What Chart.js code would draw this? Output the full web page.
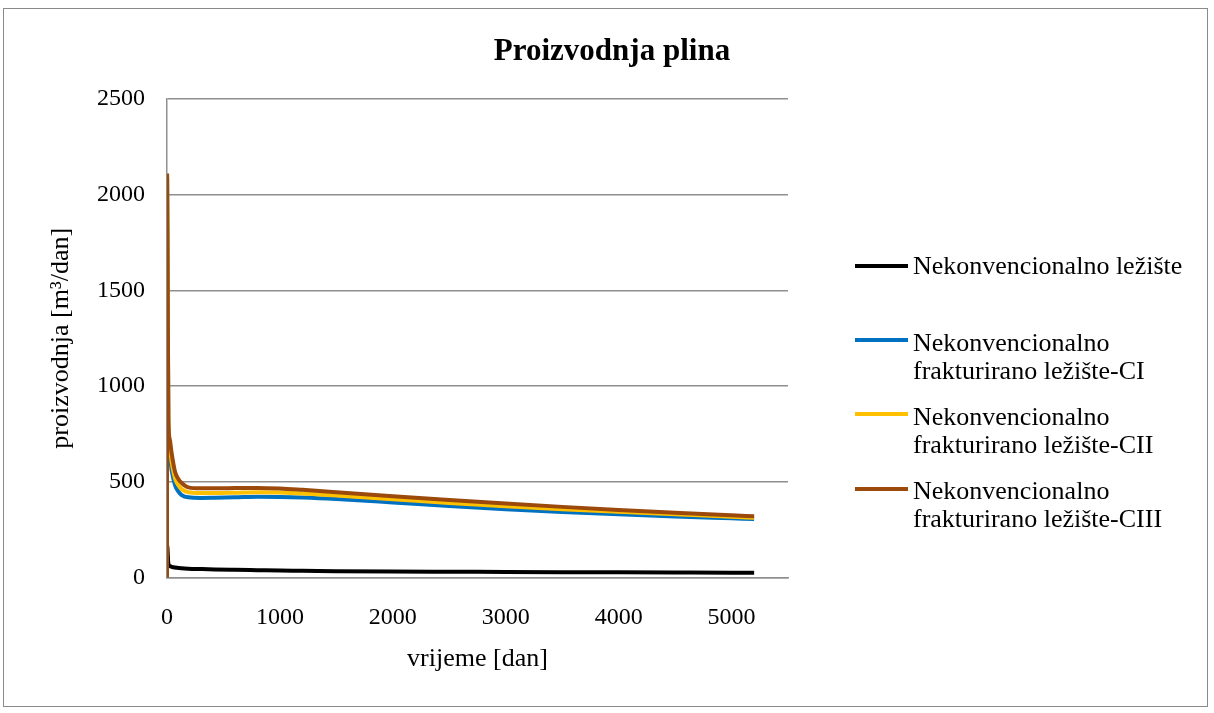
<!DOCTYPE html>
<html>
<head>
<meta charset="utf-8">
<script src="https://cdn.jsdelivr.net/npm/chart.js@4.4.1/dist/chart.umd.min.js"></script>
<style>
  body { margin: 0; background: #fff; }
  #wrap { position: relative; width: 1214px; height: 713px; font-family: 'Liberation Serif', 'Times New Roman', serif; }
  #frame { position: absolute; left: 3px; top: 8px; width: 1205px; height: 699px; border: 1.5px solid #8a8a8a; box-sizing: border-box; }
  canvas { position: absolute; left: 0; top: 0; }
  .lg-line { position: absolute; left: 855px; width: 53px; height: 4px; }
  .lg-text { position: absolute; left: 913px; font-size: 26px; line-height: 28.7px; white-space: pre; color: #000; }
</style>
</head>
<body>
<div id="wrap">
  <div id="frame"></div>
  <canvas id="gasChart" width="1214" height="713"></canvas>
  <div id="legend"></div>
</div>
<script>
// time axis (days)
const days = [0, 1, 12, 25, 41, 71, 100, 130, 189, 300, 425, 600, 800, 1000, 1200, 1500, 2000, 2500, 3000, 3500, 4000, 4500, 5000, 5200];

// gas production [m3/day]
const unconv   = [0, 170, 72, 60, 56, 52, 50, 48, 46, 44, 42, 40, 38, 36, 35, 33, 31, 30, 29, 28, 27, 26, 25, 25];
const fracCI   = [0, 2080, 760, 640, 560, 483, 450, 431, 419, 416, 417, 419, 422, 421, 418, 410, 392, 373, 356, 342, 330, 319, 309, 305];
const fracCII  = [0, 2090, 795, 680, 605, 518, 482, 462, 445, 441, 441, 443, 446, 444, 439, 428, 409, 389, 372, 357, 343, 331, 317, 312];
const fracCIII = [0, 2100, 830, 720, 650, 553, 515, 494, 471, 466, 466, 467, 468, 465, 458, 446, 425, 405, 386, 369, 353, 338, 325, 320];

const seriesNames = [
    'Nekonvencionalno ležište',
    'Nekonvencionalno\nfrakturirano ležište-CI',
    'Nekonvencionalno\nfrakturirano ležište-CII',
    'Nekonvencionalno\nfrakturirano ležište-CIII'
];
const seriesValues = [unconv, fracCI, fracCII, fracCIII];
const seriesColors = ['#000000', '#0070c0', '#ffc000', '#9c4a0c'];

const yTicks = [0, 500, 1000, 1500, 2000, 2500];
const xTicks = [0, 1000, 2000, 3000, 4000, 5000];

const serif = "'Liberation Serif', 'Times New Roman', serif";
const gridGrey = '#8f8f8f';

function toPoints(vals) {
    return days.map((d, i) => ({ x: d, y: vals[i] }));
}

const datasets = seriesValues.map((vals, i) => ({
    label: seriesNames[i].replace('\n', ' '),
    data: toPoints(vals),
    borderColor: seriesColors[i],
    backgroundColor: seriesColors[i],
    borderWidth: 4,
    pointRadius: 0,
    cubicInterpolationMode: 'monotone',
    order: seriesValues.length - i
}));

new Chart(document.getElementById('gasChart'), {
    type: 'line',
    data: { datasets: datasets },
    options: {
        responsive: false,
        animation: false,
        layout: { padding: { left: 10, right: 0, top: 0, bottom: 35.5 } },
        plugins: {
            legend: { display: false },
            tooltip: { enabled: false },
            title: {
                display: true,
                text: 'Proizvodnja plina',
                color: '#000',
                font: { family: serif, size: 31, weight: 'bold' },
                padding: { top: 33.4, bottom: 28.4 }
            }
        },
        scales: {
            x: {
                type: 'linear',
                min: 0,
                max: 5500,
                grid: { display: false },
                border: { display: true, color: gridGrey, width: 1.5 },
                afterBuildTicks: s => { s.ticks = xTicks.map(v => ({ value: v })); },
                ticks: { color: '#000', font: { family: serif, size: 24 }, padding: 18, maxRotation: 0,
                         callback: v => String(v) },
                title: {
                    display: true,
                    text: 'vrijeme [dan]',
                    color: '#000',
                    font: { family: serif, size: 26 },
                    padding: { top: 0, bottom: 2.9 }
                },
                afterFit: s => { s.height = 100; }
            },
            y: {
                min: 0,
                max: 2500,
                grid: { color: gridGrey, lineWidth: 1.5, drawTicks: false },
                border: { display: true, color: gridGrey, width: 1.5 },
                afterBuildTicks: s => { s.ticks = yTicks.map(v => ({ value: v })); },
                ticks: { color: '#000', font: { family: serif, size: 24 }, padding: 22,
                         callback: v => String(v) },
                title: {
                    display: true,
                    text: 'proizvodnja [m³/dan]',
                    color: '#000',
                    font: { family: serif, size: 26 },
                    padding: { top: 35.4, bottom: 0 }
                },
                afterFit: s => { s.width = 157; }
            },
            // empty right-hand box that keeps room for the legend
            gap: {
                type: 'linear',
                position: 'right',
                display: true,
                grid: { display: false },
                border: { display: false },
                ticks: { display: false },
                afterFit: s => { s.width = 426; }
            }
        }
    }
});

// legend (html so the labels can wrap like the original)
const lineTops = [264, 338, 412, 487];
const textTops = [252, 328.5, 402.5, 476.5];
const legendBox = document.getElementById('legend');
seriesNames.forEach((name, i) => {
    const line = document.createElement('div');
    line.className = 'lg-line';
    line.style.top = lineTops[i] + 'px';
    line.style.background = seriesColors[i];
    legendBox.appendChild(line);
    const txt = document.createElement('div');
    txt.className = 'lg-text';
    txt.style.top = textTops[i] + 'px';
    txt.textContent = name;
    legendBox.appendChild(txt);
});
</script>
</body>
</html>
